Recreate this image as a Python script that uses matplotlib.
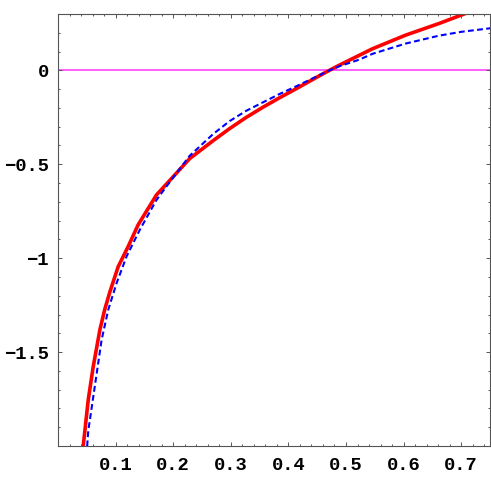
import numpy as np
import matplotlib
matplotlib.use("Agg")
import matplotlib.pyplot as plt
from matplotlib.ticker import FixedLocator, MultipleLocator

# values
red_x = [0.042, 0.0525, 0.061, 0.0728, 0.0814, 0.090, 0.1045, 0.1218, 0.139,
         0.171, 0.200, 0.2286, 0.269, 0.298, 0.327, 0.356, 0.3846, 0.4135,
         0.442, 0.468, 0.4887, 0.546, 0.604, 0.662, 0.705, 0.75]
red_y = [-2.05, -1.754, -1.58, -1.38, -1.27, -1.18, -1.045, -0.938, -0.823,
         -0.663, -0.566, -0.47, -0.375, -0.31, -0.25, -0.196, -0.146, -0.098,
         -0.049, -0.005, 0.028, 0.115, 0.188, 0.25, 0.30, 0.35]

blue_x = [0.0495, 0.0525, 0.064, 0.0757, 0.0872, 0.1017, 0.119, 0.142, 0.171,
          0.200, 0.2286, 0.269, 0.298, 0.327, 0.356, 0.3846, 0.4135, 0.442,
          0.471, 0.4887, 0.523, 0.546, 0.604, 0.662, 0.70, 0.75]
blue_y = [-2.05, -1.92, -1.68, -1.435, -1.275, -1.133, -0.991, -0.849, -0.69,
          -0.57, -0.455, -0.34, -0.27, -0.215, -0.17, -0.126, -0.085, -0.043,
          0.0, 0.022, 0.057, 0.088, 0.143, 0.185, 0.205, 0.224]

xticks = [0.1, 0.2, 0.3, 0.4, 0.5, 0.6, 0.7]
xtick_labels = ['0.1', '0.2', '0.3', '0.4', '0.5', '0.6', '0.7']
yticks = [0, -0.5, -1, -1.5]
ytick_labels = ['0', '\u22120.5', '\u22121', '\u22121.5']

fig = plt.figure(figsize=(4.91, 4.91), dpi=100)
ax = fig.add_axes([58 / 491, 45 / 491, 432 / 491, 432 / 491])

ax.axhline(0, color='#ff33ff', lw=1.1, zorder=1)
ax.plot(red_x, red_y, color='#ff0000', lw=2.6, zorder=2)
ax.plot(blue_x, blue_y, color='#0000ff', lw=1.5, dashes=(2.8, 1.6), zorder=3)

ax.set_xlim(0, 0.75)
ax.set_ylim(-2, 0.3)

ax.xaxis.set_major_locator(FixedLocator(xticks))
ax.set_xticklabels(xtick_labels)
ax.xaxis.set_minor_locator(MultipleLocator(0.02))
ax.yaxis.set_major_locator(FixedLocator(yticks))
ax.set_yticklabels(ytick_labels)
ax.yaxis.set_minor_locator(MultipleLocator(0.1))

ax.tick_params(which='both', direction='in', top=True, right=True,
               color='#555555', width=0.7)
ax.tick_params(which='major', length=3.2)
ax.tick_params(which='minor', length=1.6)
ax.tick_params(axis='x', pad=8)
ax.tick_params(axis='y', pad=6.5)

for lab in ax.get_xticklabels() + ax.get_yticklabels():
    lab.set_family(['Liberation Mono', 'DejaVu Sans Mono'])
    lab.set_fontweight('bold')
    lab.set_fontsize(13.5)

for s in ax.spines.values():
    s.set_color('#555555')
    s.set_linewidth(0.8)

fig.savefig('out.png', dpi=100)
